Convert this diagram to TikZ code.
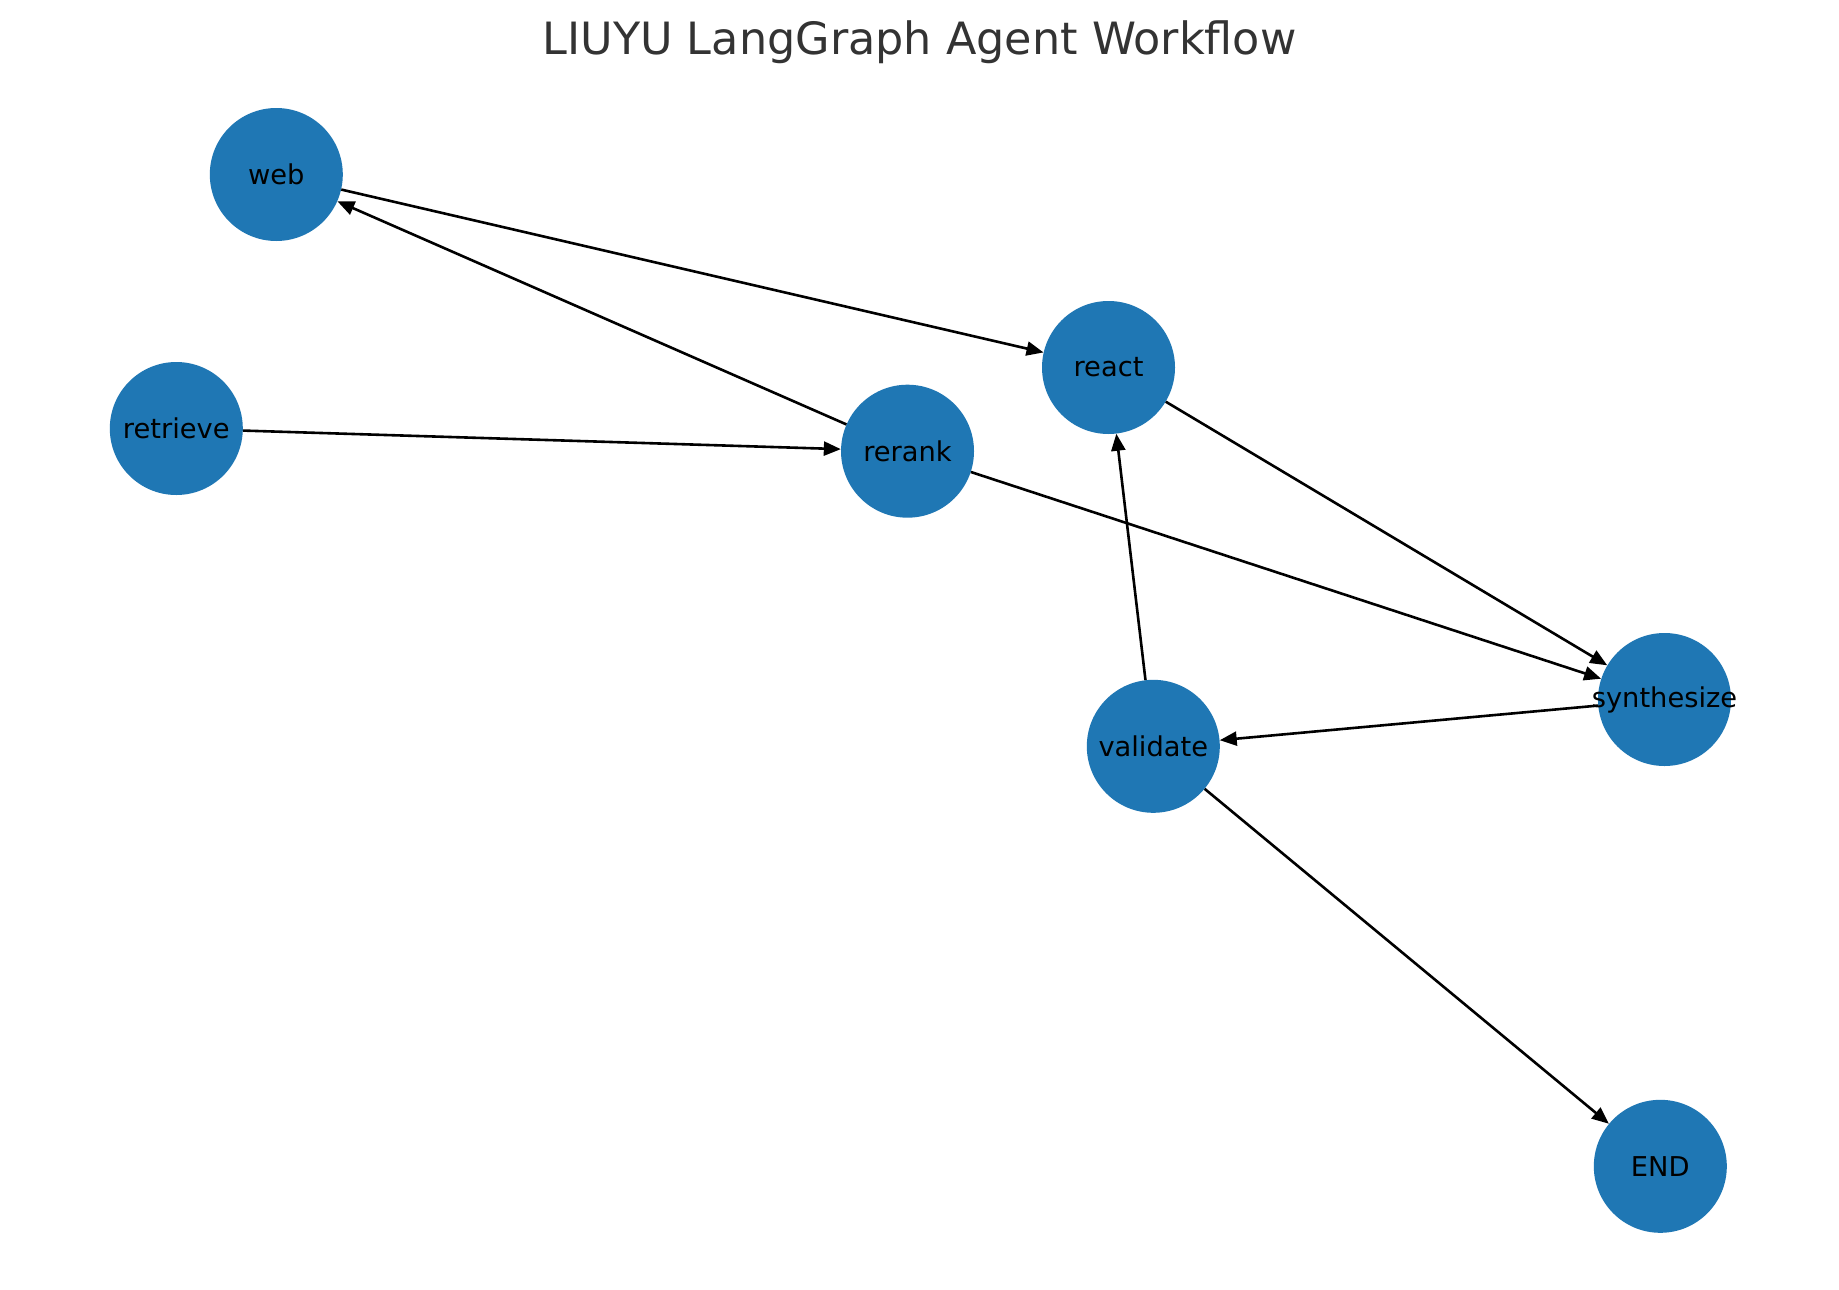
\documentclass[tikz,border=0pt]{standalone}
\usepackage{fontspec}
\setmainfont{DejaVu Sans}
\usetikzlibrary{arrows.meta}
\definecolor{nodeblue}{HTML}{1F77B4}
\definecolor{titlegray}{HTML}{333333}
\tikzset{
  gnode/.style={circle, fill=nodeblue, draw=none, minimum size=133pt, inner sep=0pt,
    font=\fontsize{27.3}{32}\selectfont, text=black},
  edge/.style={draw=black, line width=2.6pt, -{Triangle[length=17pt,width=14pt]}}
}
\newcommand{\nlab}[1]{\makebox[0pt]{#1}}
\begin{document}
\begin{tikzpicture}[x=1pt,y=-1pt]
\useasboundingbox (0,0) rectangle (1839,1290);
\fill[white] (0,0) rectangle (1839,1290);
\node[font=\fontsize{44.5}{52}\selectfont, text=titlegray, anchor=base] (title) at (919.5,55) {LIUYU LangGraph Agent Workflow};
\node[gnode] (web) at (276.3,174.5) {\nlab{web}};
\node[gnode] (retrieve) at (176.3,428.5) {\nlab{retrieve}};
\node[gnode] (rerank) at (907.5,451.2) {\nlab{rerank}};
\node[gnode] (react) at (1108.5,367.5) {\nlab{react}};
\node[gnode] (synthesize) at (1664.5,699.5) {\nlab{synthesize}};
\node[gnode] (validate) at (1153.3,746.3) {\nlab{validate}};
\node[gnode] (END) at (1660.3,1166.3) {\nlab{END}};
\draw[edge] (web) -- (react);
\draw[edge] (rerank) -- (web);
\draw[edge] (retrieve) -- (rerank);
\draw[edge] (rerank) -- (synthesize);
\draw[edge] (react) -- (synthesize);
\draw[edge] (synthesize) -- (validate);
\draw[edge] (validate) -- (react);
\draw[edge] (validate) -- (END);
\end{tikzpicture}
\end{document}
